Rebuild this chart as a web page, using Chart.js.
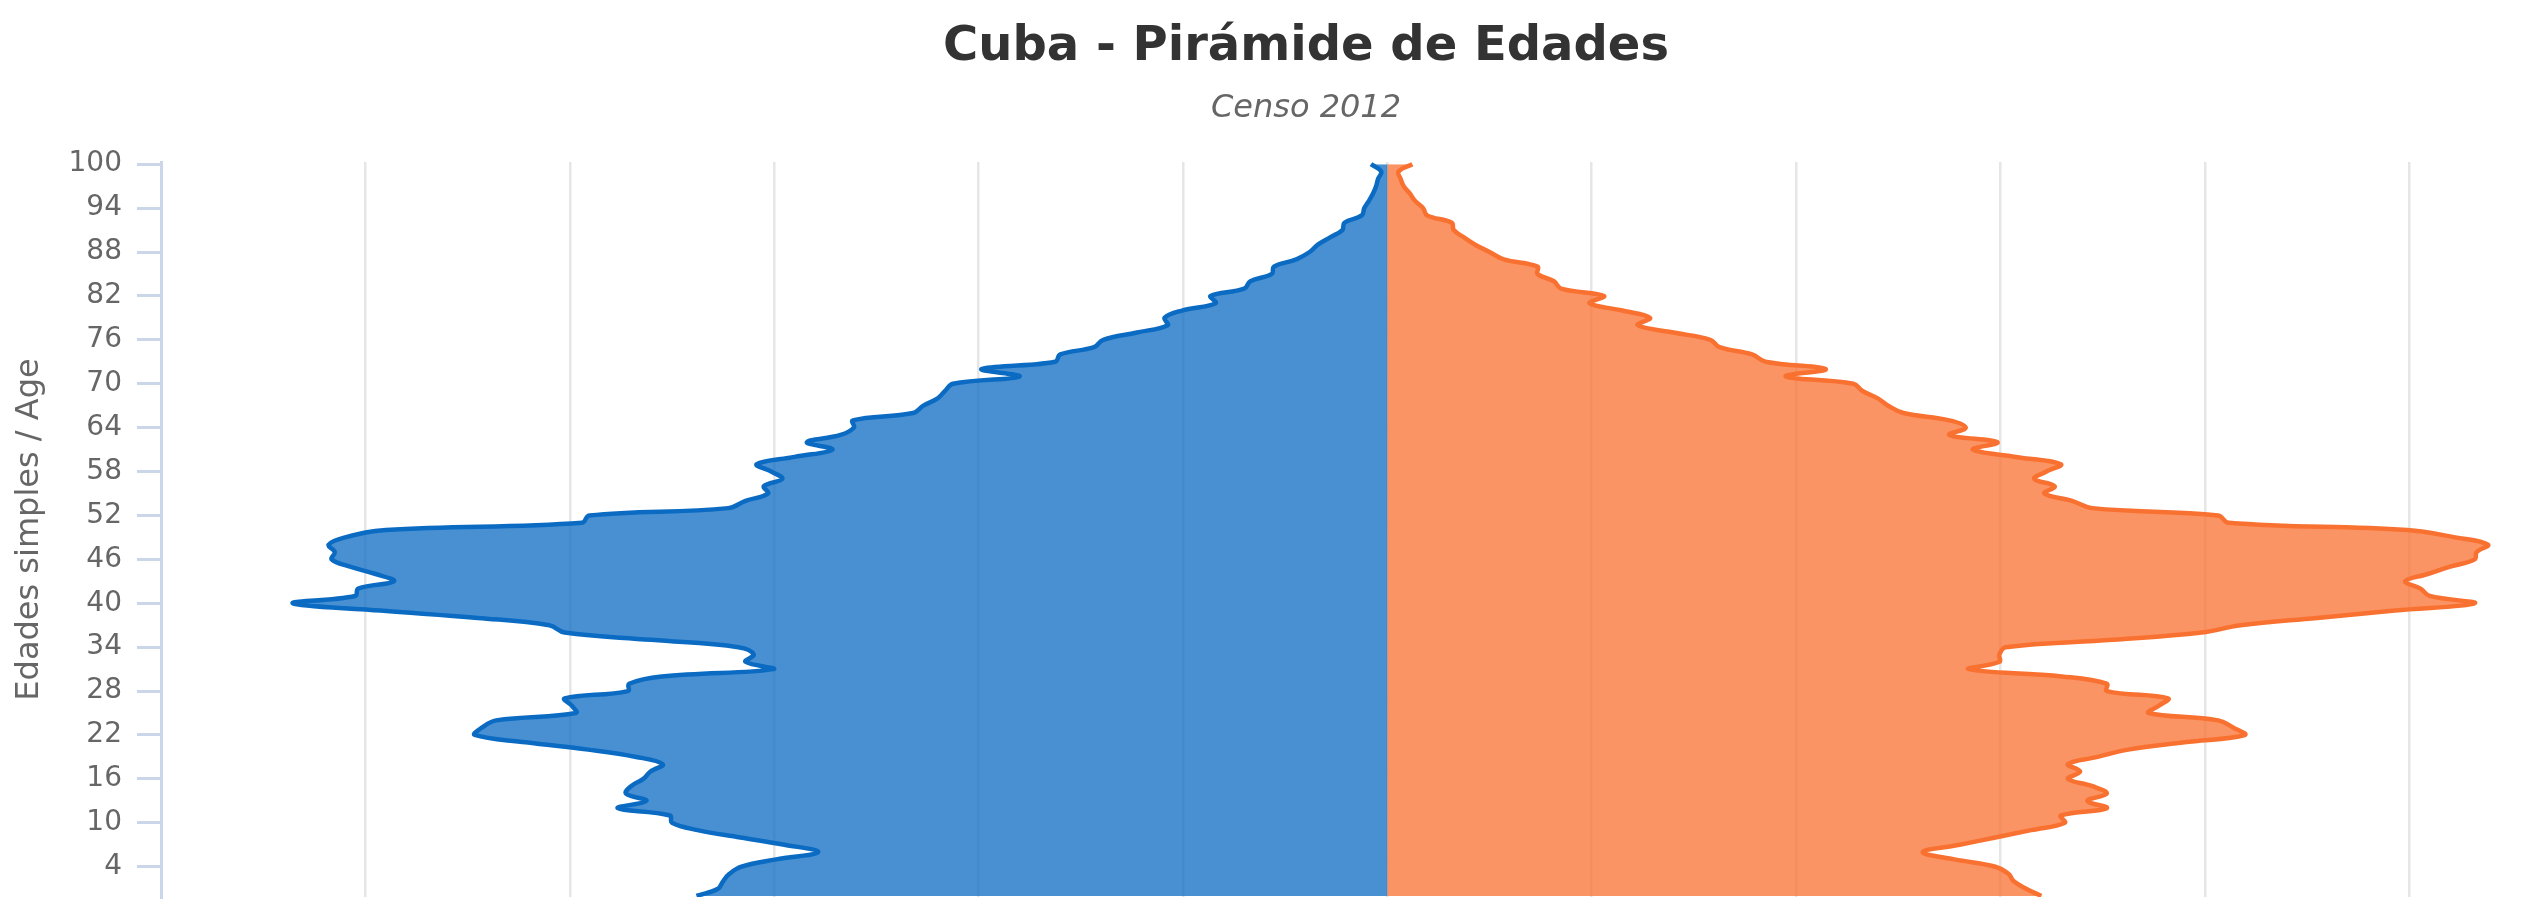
<!DOCTYPE html>
<html>
<head>
<meta charset="utf-8">
<script src="https://cdn.jsdelivr.net/npm/chart.js@4/dist/chart.umd.min.js"></script>
<style>
  html, body { margin: 0; padding: 0; background: #fff; }
  #wrap { width: 2547px; height: 917px; position: relative; }
</style>
</head>
<body>
<div id="wrap"><canvas id="pyramid"></canvas></div>
<script>
// Cuba - Censo 2012, poblacion por edad simple (miles de personas), edad 0 .. 100+
const edades = Array.from({ length: 101 }, (_, i) => i);

const hombres = [
  67.6, 65.5, 65.0, 64.4, 63.2, 59.8, 55.7, 59.0, 63.3, 67.5,
  70.0, 70.2, 75.3, 72.5, 74.5, 74.0, 72.8, 72.1, 70.9, 73.5,
  78.2, 84.3, 89.3, 88.6, 87.2, 79.4, 79.8, 80.5, 74.3, 74.2,
  71.0, 60.1, 62.8, 62.0, 63.5, 72.0, 80.5, 82.0, 89.0, 98.5,
  107.1, 101.0, 100.7, 97.2, 99.0, 101.5, 103.3, 103.0, 103.6, 102.0,
  98.0, 78.8, 78.1, 64.5, 62.8, 60.6, 61.0, 59.2, 60.3, 61.7,
  58.0, 54.3, 56.8, 53.5, 52.2, 52.3, 46.4, 45.4, 44.0, 43.3,
  42.5, 36.0, 39.7, 32.5, 32.0, 28.7, 27.8, 24.5, 21.5, 21.8,
  20.1, 16.8, 17.3, 14.0, 13.4, 11.3, 11.1, 8.9, 7.6, 6.8,
  5.6, 4.4, 4.2, 2.5, 2.25, 1.8, 1.4, 1.1, 0.9, 0.6,
  1.6
];

const mujeres = [
  64.0, 62.5, 61.3, 60.8, 59.5, 55.5, 52.4, 56.0, 59.5, 63.0,
  66.3, 65.9, 70.4, 68.5, 70.4, 69.0, 66.6, 67.8, 66.6, 69.5,
  72.5, 78.0, 83.9, 82.8, 81.3, 74.5, 75.5, 76.4, 70.4, 70.4,
  66.0, 56.9, 59.9, 59.9, 60.5, 71.0, 79.7, 83.5, 91.0, 98.6,
  106.4, 102.0, 101.1, 99.6, 101.8, 104.0, 106.4, 106.6, 107.7, 104.5,
  99.8, 82.3, 81.3, 69.0, 67.0, 64.3, 65.3, 63.3, 64.5, 65.9,
  61.5, 57.3, 59.7, 55.0, 56.6, 55.0, 50.5, 49.0, 48.0, 46.5,
  45.6, 39.0, 42.9, 37.0, 35.7, 32.5, 31.6, 28.0, 24.5, 25.7,
  23.0, 19.8, 21.2, 17.0, 16.3, 14.7, 14.7, 11.4, 10.0, 8.6,
  7.5, 6.5, 6.3, 3.9, 3.5, 2.7, 2.2, 1.6, 1.3, 1.1,
  2.45
];

const ticksEdad = [4, 10, 16, 22, 28, 34, 40, 46, 52, 58, 64, 70, 76, 82, 88, 94, 100];

const titulo = 'Cuba - Pirámide de Edades';
const subtitulo = 'Censo 2012';

// titulo y subtitulo
const titlePlugin = {
  id: 'titulos',
  afterDraw(chart) {
    const ctx = chart.ctx;
    ctx.save();
    ctx.textAlign = 'center';
    ctx.textBaseline = 'alphabetic';
    ctx.fillStyle = '#333333';
    ctx.font = 'bold 48px "DejaVu Sans"';
    ctx.fillText(titulo, 1306, 60);
    ctx.fillStyle = '#666666';
    ctx.font = 'italic 32px "DejaVu Sans"';
    ctx.fillText(subtitulo, 1306, 117);
    ctx.restore();
  }
};

const ctx = document.getElementById('pyramid').getContext('2d');

new Chart(ctx, {
  type: 'line',
  data: {
    datasets: [
      {
        label: 'Hombres',
        data: edades.map((e, i) => ({ x: -hombres[i], y: e })),
        borderColor: '#0b6bc3',
        backgroundColor: 'rgba(11,107,195,0.75)',
        borderWidth: 4.5,
        fill: 'origin',
        tension: 0.4,
        pointRadius: 0
      },
      {
        label: 'Mujeres',
        data: edades.map((e, i) => ({ x: mujeres[i], y: e })),
        borderColor: '#f97130',
        backgroundColor: 'rgba(249,112,48,0.75)',
        borderWidth: 4.5,
        fill: 'origin',
        tension: 0.4,
        pointRadius: 0
      }
    ]
  },
  options: {
    indexAxis: 'y',
    responsive: true,
    maintainAspectRatio: false,
    animation: false,
    layout: { padding: { top: 162, bottom: 20, left: 6, right: 10 } },
    scales: {
      x: {
        type: 'linear',
        min: -120,
        max: 112.5,
        ticks: { display: false, stepSize: 20 },
        afterFit: s => { s.height = 0; s.paddingLeft = 0; s.paddingRight = 0; },
        grid: {
          drawTicks: false,
          lineWidth: 2.5,
          color: c => (c.tick && Math.abs(c.tick.value % 20) < 0.001 ? '#e6e6e6' : 'rgba(0,0,0,0)')
        },
        border: { display: false }
      },
      y: {
        type: 'linear',
        position: 'left',
        min: -0.14,
        max: 100.3,
        afterBuildTicks: s => { s.ticks = ticksEdad.map(v => ({ value: v })); },
        afterFit: s => { s.width = 155; s.paddingTop = 0; s.paddingBottom = 0; },
        ticks: {
          color: '#666666',
          padding: 15,
          font: { family: 'DejaVu Sans', size: 28 }
        },
        grid: {
          drawOnChartArea: false,
          color: '#ccd6eb',
          tickLength: 24,
          lineWidth: 3
        },
        border: { color: '#ccd6eb', width: 3 },
        title: {
          display: true,
          text: 'Edades simples / Age',
          color: '#666666',
          font: { family: 'DejaVu Sans', size: 32 },
          padding: { top: 4, bottom: 4 }
        }
      }
    },
    plugins: {
      legend: { display: false },
      tooltip: { enabled: false },
      title: { display: false }
    }
  },
  plugins: [titlePlugin]
});
</script>
</body>
</html>
